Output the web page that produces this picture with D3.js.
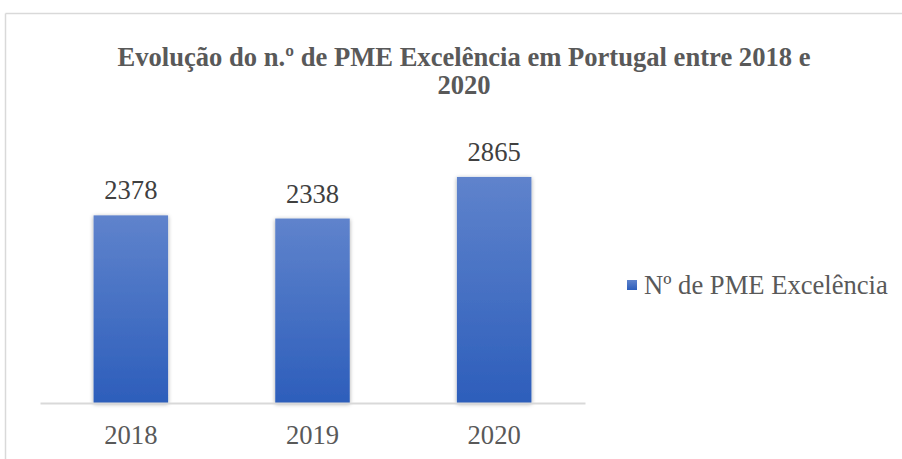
<!DOCTYPE html>
<html><head><meta charset="utf-8">
<script src="https://cdn.jsdelivr.net/npm/d3@7"></script>
<style>html,body{margin:0;padding:0;background:#fff;}svg{display:block;}</style>
</head><body>
<script>
const categories = ["2018", "2019", "2020"];
const values = [2378, 2338, 2865];
const seriesName = "Nº de PME Excelência";
const titleLines = ["Evolução do n.º de PME Excelência em Portugal entre 2018 e", "2020"];

const W = 902, H = 459;
const FONT = "'Liberation Serif', 'Times New Roman', serif";
const FS = 26.6;
const svg = d3.select("body").append("svg").attr("width", W).attr("height", H);
const defs = svg.append("defs");
const grad = defs.append("linearGradient").attr("id", "barGrad").attr("x1", 0).attr("y1", 0).attr("x2", 0).attr("y2", 1);
grad.append("stop").attr("offset", "0%").attr("stop-color", "#5f83cc");
grad.append("stop").attr("offset", "100%").attr("stop-color", "#2d5ebb");
const lgrad = defs.append("linearGradient").attr("id", "legGrad").attr("x1", 0).attr("y1", 0).attr("x2", 0).attr("y2", 1);
lgrad.append("stop").attr("offset", "0%").attr("stop-color", "#5f83cc");
lgrad.append("stop").attr("offset", "100%").attr("stop-color", "#2d5ebb");
const f = defs.append("filter").attr("id", "shadow").attr("x", "-20%").attr("y", "-10%").attr("width", "140%").attr("height", "120%");
f.append("feDropShadow").attr("dx", 0).attr("dy", 1).attr("stdDeviation", 2.2).attr("flood-color", "#000").attr("flood-opacity", 0.35);

// chart border (top and left visible)
svg.append("line").attr("x1", 5.5).attr("x2", W).attr("y1", 13.5).attr("y2", 13.5).attr("stroke", "#d9d9d9").attr("stroke-width", 1.5);
svg.append("line").attr("x1", 5.5).attr("x2", 5.5).attr("y1", 13.5).attr("y2", H).attr("stroke", "#d9d9d9").attr("stroke-width", 1.5);

// title
titleLines.forEach((t, i) => svg.append("text").attr("text-anchor", "middle")
  .attr("font-family", FONT).attr("font-weight", "bold")
  .attr("font-size", FS).attr("fill", "#595959")
  .attr("x", 464).attr("y", 66 + i * 28).text(t));

const plot = {left: 40, right: 585, bottom: 403};
const x = d3.scaleBand().domain(categories).range([plot.left, plot.right]).paddingInner(0.59).paddingOuter(0.295);
const y = d3.scaleLinear().domain([0, 3500]).range([plot.bottom, plot.bottom - 3500 * 0.0789]);

const data = categories.map((c, i) => ({c, v: values[i]}));

svg.append("g").selectAll("rect").data(data).join("rect")
  .attr("x", d => x(d.c)).attr("width", x.bandwidth())
  .attr("y", d => y(d.v)).attr("height", d => y(0) - y(d.v))
  .attr("fill", "url(#barGrad)").attr("filter", "url(#shadow)");

// axis
const xAxis = svg.append("g").attr("transform", `translate(0,${plot.bottom})`)
  .call(d3.axisBottom(x).tickSize(0).tickPadding(22));
xAxis.select(".domain").attr("stroke", "#d9d9d9").attr("stroke-width", 2);
xAxis.selectAll("text").attr("font-family", FONT).attr("dy", null).attr("y", 41)
  .attr("font-size", FS).attr("fill", "#595959");

// value labels
svg.append("g").selectAll("text").data(data).join("text")
  .attr("x", d => x(d.c) + x.bandwidth() / 2).attr("y", d => y(d.v) - 16)
  .attr("text-anchor", "middle")
  .attr("font-family", FONT).attr("font-size", FS)
  .attr("fill", "#404040").text(d => d.v);

// legend
const leg = svg.append("g").attr("transform", "translate(627,280)");
leg.append("rect").attr("width", 10).attr("height", 10).attr("fill", "url(#legGrad)");
leg.append("text").attr("x", 17).attr("y", 14).attr("font-family", FONT)
  .attr("font-size", FS).attr("fill", "#595959").text(seriesName);
</script>
</body></html>
